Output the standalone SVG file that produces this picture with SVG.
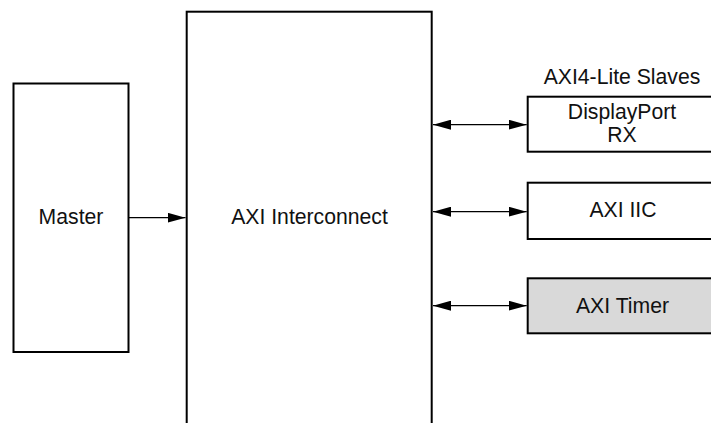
<svg xmlns="http://www.w3.org/2000/svg" width="711" height="423" viewBox="0 0 711 423">
  <style>
    .box { fill: #ffffff; stroke: #000000; stroke-width: 2; }
    .shaded { fill: #d9d9d9; }
    .wire { fill: none; stroke: #000000; stroke-width: 1.3; }
    text { font-family: "Liberation Sans", Arial, sans-serif; font-size: 21.2px; fill: #111111; text-anchor: middle; }
  </style>
  <defs>
    <marker id="arrowEnd" viewBox="0 0 18 10" refX="18" refY="5" markerWidth="18" markerHeight="10" markerUnits="userSpaceOnUse" orient="auto">
      <path d="M0,0 L18,5 L0,10 Z" fill="#000000"/>
    </marker>
    <marker id="arrowStart" viewBox="0 0 18 10" refX="0" refY="5" markerWidth="18" markerHeight="10" markerUnits="userSpaceOnUse" orient="auto">
      <path d="M18,0 L0,5 L18,10 Z" fill="#000000"/>
    </marker>
  </defs>

  <rect width="711" height="423" fill="#ffffff"/>

  <g id="master">
    <rect class="box" x="13.5" y="83.5" width="115" height="268.5"/>
    <text x="71" y="224.3">Master</text>
  </g>

  <g id="axi-interconnect">
    <rect class="box" x="186.7" y="11.7" width="245" height="430" stroke-width="2.5"/>
    <text x="309.5" y="224.3">AXI Interconnect</text>
  </g>

  <g id="slaves-label">
    <text x="622" y="84">AXI4-Lite Slaves</text>
  </g>

  <g id="displayport-rx">
    <rect class="box" x="527.7" y="96.7" width="190" height="55"/>
    <text x="622" y="119.3">DisplayPort</text>
    <text x="622" y="142.3">RX</text>
  </g>

  <g id="axi-iic">
    <rect class="box" x="527.7" y="182.7" width="190" height="56.3"/>
    <text x="623" y="217.3">AXI IIC</text>
  </g>

  <g id="axi-timer">
    <rect class="box shaded" x="527.7" y="278.3" width="190" height="55"/>
    <text x="622.5" y="313.3">AXI Timer</text>
  </g>

  <g id="connectors">
    <line class="wire" x1="128.5" y1="217.7" x2="185.5" y2="217.7" marker-end="url(#arrowEnd)"/>
    <line class="wire" x1="433" y1="124.7" x2="526.7" y2="124.7" marker-start="url(#arrowStart)" marker-end="url(#arrowEnd)"/>
    <line class="wire" x1="433" y1="211.7" x2="526.7" y2="211.7" marker-start="url(#arrowStart)" marker-end="url(#arrowEnd)"/>
    <line class="wire" x1="433" y1="305.7" x2="526.7" y2="305.7" marker-start="url(#arrowStart)" marker-end="url(#arrowEnd)"/>
  </g>
</svg>
